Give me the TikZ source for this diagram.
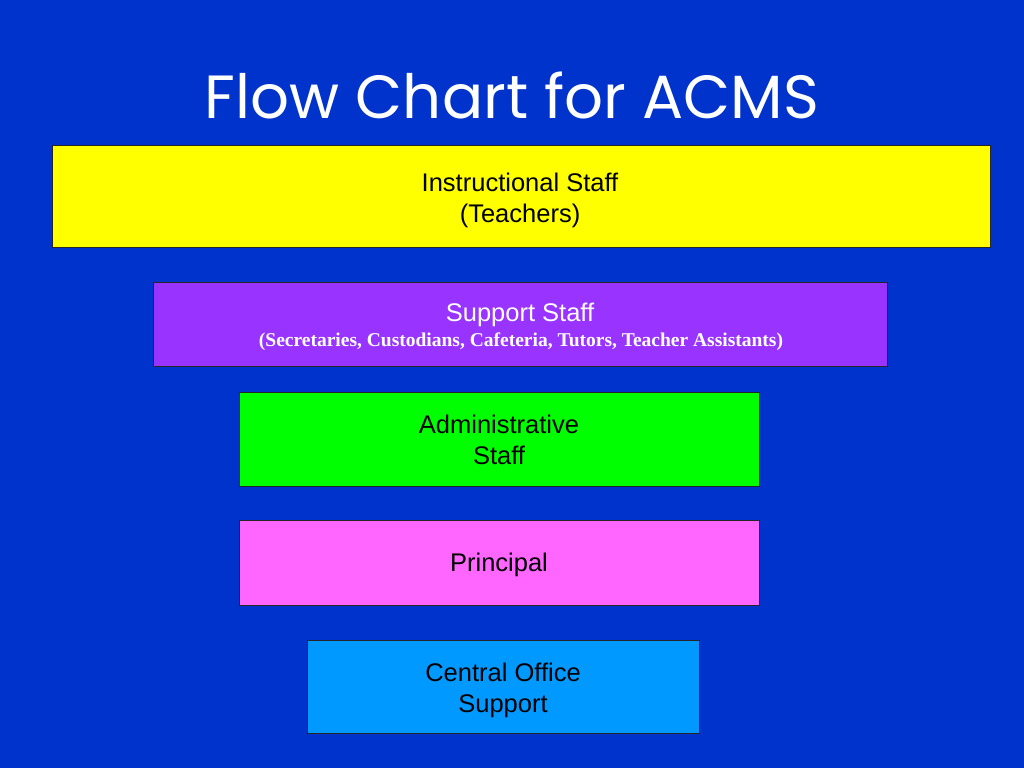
\documentclass[tikz,border=0pt]{standalone}
\usepackage{fontspec}
\setmainfont{Liberation Sans}
\newfontfamily\titlefont{Poppins}
\newfontfamily\serifbold{Liberation Serif}
\definecolor{bgblue}{HTML}{0033CC}
\definecolor{boxyellow}{HTML}{FFFF00}
\definecolor{boxpurple}{HTML}{9933FF}
\definecolor{boxgreen}{HTML}{00FF00}
\definecolor{boxpink}{HTML}{FF66FF}
\definecolor{boxcyan}{HTML}{0099FF}
\begin{document}
\begin{tikzpicture}[x=1pt,y=-1pt,
  tier/.style={draw=black!85, line width=1pt, rectangle},
  lbl/.style={align=center, font=\fontsize{25.5}{31}\selectfont, text=black}]
\fill[bgblue] (0,0) rectangle (1024,768);
\useasboundingbox (0,0) rectangle (1024,768);
\node[font=\titlefont\fontsize{61}{64}\selectfont, text=white] (title) at (512,95) {Flow Chart for ACMS};
\draw[tier, fill=boxyellow] (52,145) rectangle (990,247);
\node[lbl, anchor=north] (instrT) at (520,169) {Instructional Staff\\(Teachers)};
\draw[tier, fill=boxpurple] (153,282) rectangle (887,366);
\node[lbl, text=white, anchor=north] (suppT) at (520,300) {Support Staff};
\node[font=\serifbold\bfseries\fontsize{19.5}{22}\selectfont, text=white, anchor=north] (suppS) at (521,329) {(Secretaries, Custodians, Cafeteria, Tutors, Teacher Assistants)};
\draw[tier, fill=boxgreen] (239,392) rectangle (759,486);
\node[lbl, anchor=north] (adminT) at (499,411) {Administrative\\Staff};
\draw[tier, fill=boxpink] (239,520) rectangle (759,605);
\node[lbl] (prinT) at (499,565) {Principal};
\draw[tier, fill=boxcyan] (307,640) rectangle (699,733);
\node[lbl, anchor=north] (centT) at (503,659) {Central Office\\Support};
\end{tikzpicture}
\end{document}
